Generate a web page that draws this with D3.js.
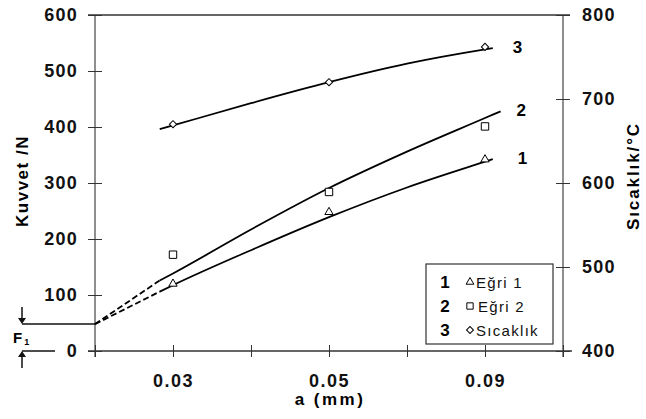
<!DOCTYPE html>
<html>
<head>
<meta charset="utf-8">
<script src="https://cdn.jsdelivr.net/npm/d3@7"></script>
<style>
  body { margin: 0; background: #fff; }
  svg { display: block; font-family: "Liberation Sans", Arial, sans-serif; }
</style>
</head>
<body>
<svg id="chart" width="646" height="419"></svg>
<script>
// a values sit on every other slot of the x axis
var aLabels = ["0.03", "0.05", "0.09"];
var aSlots = [1, 3, 5];
var xTicks = [0, 1, 2, 3, 4, 5, 6];
var kuvvetTicks = [0, 100, 200, 300, 400, 500, 600];
var sicaklikTicks = [400, 500, 600, 700, 800];

// measured points
var egri1 = [120, 248, 342];
var egri2 = [172, 284, 401];
var sicaklik = [670, 720, 762];

// fitted curves (slot, value)
var F1 = 48;
var fitSlots1 = [0.83, 1, 2, 3, 4, 5, 5.1];
var fit1 = [106, 117.5, 180, 239, 292, 338, 342.5];
var fitSlots2 = [0.83, 1, 2, 3, 4, 5, 5.2];
var fit2 = [126, 138.5, 217, 291, 356, 416, 428];
var fitSlots3 = [0.83, 1, 2, 3, 4, 5, 5.1];
var fit3 = [664, 668.5, 695, 720, 742, 759, 760.5];

var legendNums = ["1", "2", "3"];
var legendNames = ["Eğri 1", "Eğri 2", "Sıcaklık"];

var svg = d3.select("#chart");
var plotL = 95, plotR = 563, plotT = 15, plotB = 351;

var x = d3.scaleLinear().domain([0, 6]).range([plotL, plotR]);
var yL = d3.scaleLinear().domain([0, 600]).range([plotB, plotT]);
var yR = d3.scaleLinear().domain([400, 800]).range([plotB, plotT]);

var axisColor = "#333";
var numFont = "bold 18px 'Liberation Sans', Arial";

// frame lines
svg.append("line").attr("x1", 88).attr("x2", 570).attr("y1", plotT).attr("y2", plotT)
   .attr("stroke", axisColor).attr("stroke-width", 1.3);
svg.append("line").attr("x1", 88).attr("x2", 572).attr("y1", plotB).attr("y2", plotB)
   .attr("stroke", axisColor).attr("stroke-width", 1.3);
svg.append("line").attr("x1", plotL).attr("x2", plotL).attr("y1", plotT).attr("y2", 357)
   .attr("stroke", axisColor).attr("stroke-width", 1.1);
svg.append("line").attr("x1", plotR).attr("x2", plotR).attr("y1", plotT).attr("y2", 357)
   .attr("stroke", axisColor).attr("stroke-width", 1.1);

// left axis
var gL = svg.append("g").attr("transform", "translate(" + plotL + ",0)")
    .call(d3.axisLeft(yL).tickValues(kuvvetTicks).tickSize(7).tickPadding(10));
gL.select(".domain").remove();
gL.selectAll(".tick line").attr("x1", 7).attr("stroke", axisColor);
gL.selectAll(".tick text").style("font", numFont).attr("letter-spacing", 1.2).attr("fill", "#111");

// right axis
var gR = svg.append("g").attr("transform", "translate(" + plotR + ",0)")
    .call(d3.axisRight(yR).tickValues(sicaklikTicks).tickSize(7).tickPadding(12));
gR.select(".domain").remove();
gR.selectAll(".tick line").attr("x1", -7).attr("stroke", axisColor);
gR.selectAll(".tick text").style("font", numFont).attr("letter-spacing", 1.2).attr("fill", "#111");

// bottom axis
var gB = svg.append("g").attr("transform", "translate(0," + plotB + ")")
    .call(d3.axisBottom(x).tickValues(xTicks).tickSize(6).tickPadding(17)
      .tickFormat(function(d) { var i = aSlots.indexOf(d); return i < 0 ? "" : aLabels[i]; }));
gB.select(".domain").remove();
gB.selectAll(".tick line").attr("y1", -6).attr("stroke", axisColor);
gB.selectAll(".tick text").style("font", numFont).attr("letter-spacing", 1.5).attr("fill", "#111");

// axis titles
svg.append("text").attr("transform", "translate(28,181) rotate(-90)")
   .attr("text-anchor", "middle").attr("letter-spacing", 1.5)
   .style("font", "bold 17px 'Liberation Sans', Arial").text("Kuvvet /N");
svg.append("text").attr("transform", "translate(639,176) rotate(-90)")
   .attr("text-anchor", "middle").attr("letter-spacing", 1.9)
   .style("font", "bold 17px 'Liberation Sans', Arial").text("Sıcaklık/°C");
svg.append("text").attr("x", 330).attr("y", 405)
   .attr("text-anchor", "middle").attr("letter-spacing", 2.5)
   .style("font", "bold 17px 'Liberation Sans', Arial").text("a (mm)");

// F1 marker on the left axis
var yF = yL(F1), y0 = yL(0);
svg.append("line").attr("x1", 22).attr("x2", plotL).attr("y1", yF).attr("y2", yF)
   .attr("stroke", "#111").attr("stroke-width", 1.5);
svg.append("line").attr("x1", 22).attr("x2", 55).attr("y1", y0).attr("y2", y0)
   .attr("stroke", "#111").attr("stroke-width", 1.5);
svg.append("line").attr("x1", 22).attr("x2", 22).attr("y1", yF - 17).attr("y2", yF - 4)
   .attr("stroke", "#111").attr("stroke-width", 1.5);
svg.append("path").attr("d", "M18," + (yF - 6) + "L26," + (yF - 6) + "L22," + yF + "Z")
   .attr("fill", "#111");
svg.append("line").attr("x1", 22).attr("x2", 22).attr("y1", y0 + 17).attr("y2", y0 + 4)
   .attr("stroke", "#111").attr("stroke-width", 1.5);
svg.append("path").attr("d", "M18," + (y0 + 6) + "L26," + (y0 + 6) + "L22," + y0 + "Z")
   .attr("fill", "#111");
var f1 = svg.append("text").attr("x", 13).attr("y", 343)
   .style("font", "bold 15px 'Liberation Sans', Arial").text("F");
f1.append("tspan").attr("dx", 2).attr("dy", 2).style("font-size", "9px").text("1");

// fitted curves
var lineL = d3.line().x(function(d) { return x(d[0]); }).y(function(d) { return yL(d[1]); })
    .curve(d3.curveMonotoneX);
var lineR = d3.line().x(function(d) { return x(d[0]); }).y(function(d) { return yR(d[1]); })
    .curve(d3.curveMonotoneX);

function pairs(s, v) { return s.map(function(d, i) { return [d, v[i]]; }); }

svg.append("path").attr("d", lineL(pairs(fitSlots1, fit1)))
   .attr("fill", "none").attr("stroke", "#000").attr("stroke-width", 1.8);
svg.append("path").attr("d", lineL(pairs(fitSlots2, fit2)))
   .attr("fill", "none").attr("stroke", "#000").attr("stroke-width", 1.8);
svg.append("path").attr("d", lineR(pairs(fitSlots3, fit3)))
   .attr("fill", "none").attr("stroke", "#000").attr("stroke-width", 1.8);

// dashed extrapolation down to F1
[[fitSlots1, fit1], [fitSlots2, fit2]].forEach(function(f) {
  svg.append("path").attr("d", lineL([[0, F1], [f[0][0], f[1][0]]]))
     .attr("fill", "none").attr("stroke", "#000").attr("stroke-width", 1.8)
     .attr("stroke-dasharray", "6,3");
});

// measured markers (diamond = square turned 45deg)
function markers(type, size, rot, vals, y) {
  svg.selectAll(null).data(vals).enter().append("path")
     .attr("transform", function(d, i) {
       return "translate(" + x(aSlots[i]) + "," + y(d) + ") rotate(" + rot + ")"; })
     .attr("d", d3.symbol().type(type).size(size))
     .attr("fill", "#fff").attr("stroke", "#000").attr("stroke-width", 1);
}
markers(d3.symbolTriangle, 30, 0, egri1, yL);
markers(d3.symbolSquare, 55, 0, egri2, yL);
markers(d3.symbolSquare, 26, 45, sicaklik, yR);

// curve numbers
var ends = [[fitSlots1, fit1, yL], [fitSlots2, fit2, yL], [fitSlots3, fit3, yR]];
var labelDx = [25, 16, 20];
ends.forEach(function(e, i) {
  var n = e[0].length - 1;
  svg.append("text").attr("x", x(e[0][n]) + labelDx[i]).attr("y", e[2](e[1][n]) + 5)
     .style("font", "bold 17px 'Liberation Sans', Arial").text(legendNums[i]);
});

// legend
var lg = svg.append("g").attr("transform", "translate(426,264)");
lg.append("rect").attr("width", 127).attr("height", 80)
  .attr("fill", "#fff").attr("stroke", "#333").attr("stroke-width", 1.2);
var types = [d3.symbolTriangle, d3.symbolSquare, d3.symbolSquare];
var sizes = [26, 40, 24];
var rots = [0, 0, 45];
legendNames.forEach(function(name, i) {
  var cy = 18 + i * 24;
  lg.append("text").attr("x", 19).attr("y", cy + 6).attr("text-anchor", "middle")
    .style("font", "bold 17px 'Liberation Sans', Arial").text(legendNums[i]);
  lg.append("path").attr("transform", "translate(44," + cy + ") rotate(" + rots[i] + ")")
    .attr("d", d3.symbol().type(types[i]).size(sizes[i]))
    .attr("fill", "#fff").attr("stroke", "#000").attr("stroke-width", 1);
  lg.append("text").attr("x", i == 1 ? 52 : 50).attr("y", cy + 5.5).attr("letter-spacing", 1.3)
    .style("font", "15px 'Liberation Sans', Arial").attr("fill", "#111").text(name);
});
</script>
</body>
</html>
